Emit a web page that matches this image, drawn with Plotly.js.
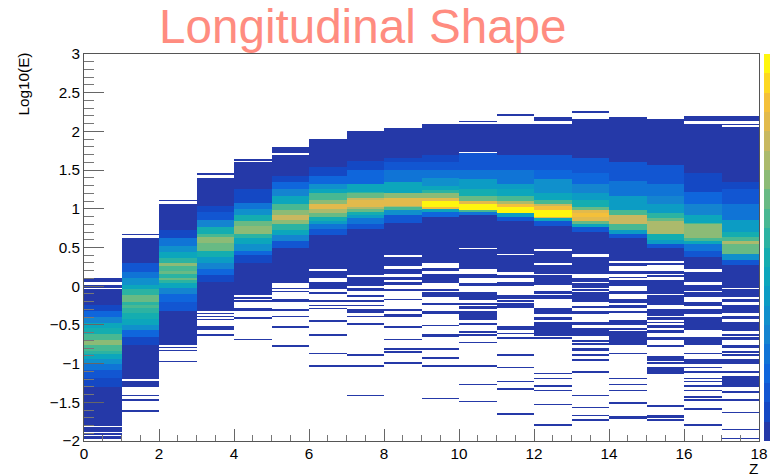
<!DOCTYPE html>
<html>
<head>
<meta charset="utf-8">
<script src="https://cdn.plot.ly/plotly-3.0.1.min.js"></script>
<style>html,body{margin:0;padding:0;background:#fff;overflow:hidden}</style>
</head>
<body>
<div id="chart" style="width:770px;height:475px"></div>
<script>
// Palette of the 20 contour levels, bottom to top of the colour bar
var levelColors = ["#2539A8","#1448C4","#1256D2","#0F66DC","#1074D6","#1484D0","#1090CC","#0C9CC4","#0CA6BC","#14ADB0",
                   "#2BB3A2","#48B892","#68BA84","#8CBB76","#ACBA6C","#C8B860","#E2BA4C","#F4C03A","#FDD822","#FFF60E"];
var zBinEdges = [0,1,2,3,4,5,6,7,8,9,10,11,12,13,14,15,16,17,18];

// Each band: [low Log10(E), high Log10(E), colour level 1-20]; each line: a one-bin Log10(E) entry at level 1
var bands0 = [[-1.79,-1.30,1],[-1.30,-1.19,2],[-1.19,-1.08,3],[-1.08,-1.0,5],[-1.0,-.93,7],[-.93,-.88,9],[-.88,-.83,11],[-.83,-.76,12],[-.76,-.70,14],[-.70,-.62,12],[-.62,-.55,10],[-.55,-.48,9],[-.48,-.40,6],[-.40,-.33,4],[-.33,-.25,2],[-.25,-.05,1],[-.02,.03,1],[.06,.11,1],[-1.88,-1.824,1],[-1.93,-1.91,1],[-1.978,-1.95,1]];
var lines0 = [];
var bands1 = [[-1.30,-1.22,1],[-1.20,-.76,1],[-.76,-.66,2],[-.66,-.57,4],[-.57,-.50,7],[-.50,-.42,9],[-.42,-.34,10],[-.34,-.29,11],[-.29,-.24,12],[-.24,-.20,11],[-.20,-.13,13],[-.13,-.05,11],[-.05,.03,9],[.03,.10,7],[.10,.18,5],[.18,.29,3],[.29,.59,1]];
var lines1 = [.67,.61,-1.41,-1.47,-1.61];
var bands2 = [[-.76,-.32,1],[-.32,-.2,3],[-.2,-.1,4],[-.1,-.02,6],[-.02,.05,9],[.05,.08,11],[.08,.11,13],[.11,.15,11],[.15,.19,13],[.19,.25,12],[.25,.29,14],[.29,.36,11],[.36,.44,9],[.44,.52,7],[.52,.62,5],[.62,.71,2],[.71,1.06,1]];
var lines2 = [1.11,-.79,-.835,-.976];
var bands3 = [[-.33,.055,1],[.055,.14,2],[.14,.22,4],[.22,.29,6],[.29,.38,8],[.38,.46,10],[.46,.56,13],[.56,.64,14],[.64,.68,12],[.68,.75,10],[.75,.85,6],[.85,.95,3],[.95,1.045,2],[1.045,1.40,1]];
var lines3 = [1.45,-.36,-.39,-.43,-.525,-.55,-.63];
var bands4 = [[-.115,.29,1],[.29,.40,2],[.40,.47,4],[.47,.55,7],[.55,.62,9],[.62,.68,11],[.68,.78,14],[.78,.84,13],[.84,.92,10],[.92,1.0,7],[1.0,1.07,5],[1.07,1.26,2],[1.26,1.6,1]];
var lines4 = [1.635,-.16,-.19,-.30,-.32,-.41,-.69];
var bands5 = [[.048,.508,1],[.51,.58,3],[.58,.66,6],[.66,.72,9],[.72,.80,11],[.80,.86,14],[.86,.92,16],[.92,.98,14],[.98,1.06,12],[1.06,1.15,9],[1.15,1.25,6],[1.25,1.34,4],[1.34,1.42,2],[1.42,1.70,1],[1.72,1.80,1],[-.2,-.16,1]];
var lines5 = [-.04,-.08,-.31,-.39,-.53,-.77];
var bands6 = [[.21,.66,1],[.66,.73,3],[.73,.79,5],[.79,.84,8],[.84,.90,10],[.90,.94,13],[.94,1.0,15],[1.0,1.05,17],[1.05,1.12,14],[1.12,1.2,12],[1.2,1.25,9],[1.25,1.32,7],[1.32,1.41,4],[1.41,1.54,2],[1.54,1.905,1],[.10,.19,1],[-.04,.06,1]];
var lines6 = [-.094,-.20,-.25,-.29,-.447,-.627,-.868,-1.03];
var bands7 = [[.143,.74,1],[.74,.80,3],[.80,.87,5],[.87,.92,8],[.92,.96,10],[.96,1.0,13],[1.0,1.02,15],[1.02,1.12,17],[1.12,1.14,16],[1.14,1.196,13],[1.196,1.22,11],[1.22,1.325,9],[1.325,1.5,4],[1.5,1.62,2],[1.62,2.0,1],[0,.112,1],[-.07,-.03,1],[-.345,-.30,1]];
var lines7 = [-.137,-.19,-.25,-.395,-.49,-.89,-1.03,-1.406];
var bands8 = [[.405,.82,1],[.82,.92,3],[.92,.98,7],[.98,1.03,12],[1.03,1.045,15],[1.045,1.14,17],[1.14,1.19,14],[1.19,1.345,9],[1.345,1.5,5],[1.5,1.6,3],[1.6,1.66,2],[1.66,2.04,1],[.37,.38,1],[.25,.336,1],[.164,.216,1],[.087,.13,1],[.013,.057,1],[-.405,-.36,1]];
var lines8 = [.353,-.042,-.17,-.31,-.53,-.69,-.81,-.85,-.99];
var bands9 = [[.293,.895,1],[.895,.96,4],[.96,.99,9],[.99,1.015,18],[1.015,1.09,20],[1.09,1.13,17],[1.13,1.2,14],[1.2,1.24,11],[1.24,1.3,9],[1.3,1.4,7],[1.4,1.5,5],[1.5,1.6,3],[1.6,1.70,2],[1.70,2.1,1],[.035,.151,1],[-.15,-.085,1],[-.361,-.318,1],[-.662,-.619,1]];
var lines9 = [.228,.207,-.042,-.232,-.51,-.81,-.93,-1.03,-1.45];
var bands10 = [[.508,.917,1],[.917,.95,5],[.95,.98,12],[.98,1.06,20],[1.06,1.09,17],[1.09,1.15,13],[1.15,1.25,10],[1.25,1.37,8],[1.37,1.5,5],[1.5,1.71,3],[1.73,2.1,1],[.216,.478,1],[.1,.155,1],[0,.035,1],[-.18,-.08,1],[-.39,-.35,1],[-.45,-.40,1]];
var lines10 = [2.13,-.23,-.266,-.296,-.33,-.494,-.6,-.636,-.73,-1.03,-1.27,-1.495];
var bands11 = [[.603,.84,1],[.84,.90,3],[.90,.938,8],[.938,1.024,20],[1.024,1.067,18],[1.067,1.1,15],[1.1,1.153,12],[1.153,1.25,9],[1.25,1.325,8],[1.325,1.497,5],[1.497,1.70,3],[1.70,2.11,1],[.422,.581,1],[.315,.4,1],[.185,.293,1],[-.008,.035,1],[-.16,-.128,1],[-.288,-.214,1],[-.675,-.655,1]];
var lines11 = [2.215,.594,.306,.134,.1,.057,-.189,-.533,-.558,-.62,-.89,-1.05,-1.225,-1.33,-1.646];
var bands12 = [[.487,.787,1],[.787,.83,3],[.83,.87,9],[.87,.904,17],[.904,.98,20],[.98,1.03,18],[1.03,1.067,16],[1.067,1.11,12],[1.11,1.2,9],[1.2,1.37,7],[1.37,1.5,4],[1.5,1.70,3],[1.70,2.11,1],[2.14,2.185,1],[.3,.456,1],[.155,.28,1],[.026,.134,1],[-.103,-.051,1],[-.16,-.128,1],[-.352,-.275,1],[-.438,-.408,1],[-.645,-.468,1]];
var lines12 = [-.675,-1.126,-1.19,-1.29,-1.354,-1.526,-1.79];
var bands13 = [[.422,.70,1],[.70,.76,3],[.76,.79,9],[.79,.83,13],[.83,.90,17],[.90,.93,18],[.93,.98,17],[.98,1.02,13],[1.02,1.11,10],[1.11,1.2,8],[1.2,1.325,6],[1.325,1.454,4],[1.454,1.66,3],[1.66,2.16,1],[.323,.37,1],[.155,.293,1],[.057,.095,1],[-.03,.035,1],[-.193,-.073,1],[-.29,-.253,1],[-.353,-.33,1],[-.645,-.533,1],[-.84,-.8,1]];
var lines13 = [2.25,.306,-.05,-.48,-.5,-.71,-.76,-.89,-.945,-1.105,-1.406,-1.57,-1.67,-1.73];
var bands14 = [[.323,.615,1],[.615,.67,3],[.67,.72,8],[.72,.80,12],[.80,.916,16],[.916,.98,12],[.98,1.153,8],[1.153,1.35,5],[1.35,1.605,3],[1.605,2.185,1],[.259,.3,1],[.151,.207,1],[.009,.078,1],[-.103,-.051,1],[-.223,-.167,1],[-.279,-.232,1],[-.494,-.447,1],[-.554,-.533,1],[-.76,-.61,1],[-1.72,-1.685,1]];
var lines14 = [.1,-.322,-.59,-.877,-1.19,-1.27,-1.35,-1.52];
var bands15 = [[.315,.508,1],[.508,.55,3],[.55,.60,8],[.60,.68,10],[.68,.83,15],[.83,.87,13],[.87,.938,11],[.938,1.05,8],[1.05,1.153,6],[1.153,1.325,5],[1.325,1.56,3],[1.56,2.07,1],[2.105,2.15,1],[.27,.293,1],[.155,.207,1],[.121,.138,1],[-.094,.09,1],[-.245,-.115,1],[-.352,-.292,1],[-.545,-.5,1],[-.696,-.653,1],[-.954,-.902,1],[-1.139,-1.049,1],[-1.707,-1.668,1]];
var lines15 = [2.09,-.378,-.404,-.43,-.464,-.576,-.6,-.773,-.99,-1.55,-1.73];
var bands16 = [[.215,.38,1],[.38,.46,3],[.46,.53,5],[.53,.58,9],[.58,.62,12],[.62,.79,14],[.79,.81,12],[.81,.916,9],[.916,1.067,6],[1.067,1.217,4],[1.217,1.45,2],[1.45,2.11,1],[2.14,2.2,1],[.07,.173,1],[-.15,-.073,1],[-.257,-.193,1],[-.352,-.309,1],[-.567,-.43,1],[-.696,-.653,1],[-.76,-.726,1],[-1.0,-.933,1]];
var lines16 = [.013,-.008,-.03,-.051,-.404,-.709,-.868,-1.05,-1.105,-1.19,-1.24,-1.3,-1.35,-1.427,-1.47,-1.59,-1.79];
var bands17 = [[-.017,.27,1],[.27,.336,3],[.336,.42,7],[.42,.55,13],[.55,.57,15],[.57,.637,12],[.637,.70,10],[.70,.85,8],[.85,1.067,5],[1.067,1.26,3],[1.26,1.33,2],[1.33,2.05,1],[2.07,2.11,1],[2.14,2.2,1],[-.137,-.042,1],[-.343,-.232,1],[-.416,-.374,1],[-.589,-.468,1],[-.709,-.687,1],[-.8,-.76,1],[-1.0,-.933,1],[-1.277,-1.16,1]];
var lines17 = [-.18,-.2,-.63,-.66,-.846,-.89,-1.105,-1.3,-1.36,-1.47,-1.63,-1.85,-1.97];

var columnBands = [bands0,bands1,bands2,bands3,bands4,bands5,bands6,bands7,bands8,bands9,bands10,bands11,bands12,bands13,bands14,bands15,bands16,bands17];
var columnLines = [lines0,lines1,lines2,lines3,lines4,lines5,lines6,lines7,lines8,lines9,lines10,lines11,lines12,lines13,lines14,lines15,lines16,lines17];

// Histogram grid: 250 bins of Log10(E) from -2 to 3
var yMin = -2, yBin = 0.02, nY = 250, yEdges = [], z = [];
for (var r = 0; r <= nY; r++) yEdges.push(+(yMin + r * yBin).toFixed(3));
for (var r2 = 0; r2 < nY; r2++) { var row = []; for (var c = 0; c < zBinEdges.length; c++) row.push(null); z.push(row); }
function fill(col, lo, hi, lvl) {
  var a = Math.floor((lo - yMin) / yBin + 0.5), b = Math.floor((hi - yMin) / yBin + 0.5) - 1;
  if (b < a) { a = Math.floor((lo - yMin) / yBin); b = a; }
  for (var i = Math.max(a, 0); i <= Math.min(b, nY - 1); i++) z[i][col] = lvl - 0.5;
}
columnBands.forEach(function (list, col) { list.forEach(function (b) { fill(col, b[0], b[1], b[2]); }); });
columnLines.forEach(function (list, col) { list.forEach(function (v) { fill(col, v, v, 1); }); });
z.forEach(function (row) { row.pop(); });

var scale = [];
levelColors.forEach(function (c, i) { scale.push([i / 20, c]); scale.push([(i + 1) / 20, c]); });

var tickFont = {family: "Liberation Sans, Arial, sans-serif", size: 15.3, color: "#000"};
var trace = {
  type: "heatmap", x: zBinEdges, y: yEdges, z: z, zmin: 0, zmax: 20, zsmooth: false,
  colorscale: scale, hoverongaps: false,
  colorbar: {x: 1.0074, xanchor: "left", y: 0, yanchor: "bottom", len: 1, lenmode: "fraction",
             thickness: 20, thicknessmode: "pixels", xpad: 0, ypad: 0, outlinewidth: 0,
             showticklabels: false, ticks: ""}
};
var layout = {
  width: 770, height: 475, paper_bgcolor: "#fff", plot_bgcolor: "#fff", showlegend: false,
  margin: {l: 84, r: 11, t: 54, b: 34, pad: 0, autoexpand: false},
  xaxis: {range: [0, 18], dtick: 2, tick0: 0, ticks: "inside", ticklen: 11.6, tickwidth: 1, tickcolor: "#666",
          showline: true, mirror: true, linecolor: "#555", linewidth: 1, showgrid: false, zeroline: false,
          tickfont: tickFont, ticklabelstandoff: -1,
          minor: {dtick: 0.5, tick0: 0, ticks: "inside", ticklen: 6, tickwidth: 1, tickcolor: "#777", showgrid: false}},
  yaxis: {range: [-2, 3], dtick: 0.5, tick0: 0, ticks: "inside", ticklen: 20, tickwidth: 1, tickcolor: "#666",
          showline: true, mirror: true, linecolor: "#555", linewidth: 1, showgrid: false, zeroline: false,
          tickfont: tickFont,
          minor: {dtick: 0.1, tick0: 0, ticks: "inside", ticklen: 10, tickwidth: 1, tickcolor: "#777", showgrid: false}},
  annotations: [
    {text: "Longitudinal Shape", xref: "paper", yref: "paper", x: 0.4133, y: 1, yshift: 56.5, xanchor: "center", yanchor: "top", showarrow: false,
     font: {family: "Liberation Sans, Arial, sans-serif", size: 47.6, color: "#FF8C80"}},
    {text: "Log10(E)", xref: "paper", yref: "paper", x: 0, xshift: -61, y: 1, yshift: 3, textangle: -90, xanchor: "center", yanchor: "top", showarrow: false,
     font: {family: "Liberation Sans, Arial, sans-serif", size: 15.3, color: "#000"}},
    {text: "Z", xref: "paper", yref: "paper", x: 1, y: 0, yshift: -37, borderpad: 0, xanchor: "right", yanchor: "bottom", showarrow: false,
     font: {family: "Liberation Sans, Arial, sans-serif", size: 15.3, color: "#000"}}
  ]
};
Plotly.newPlot("chart", [trace], layout, {displayModeBar: false, staticPlot: true});
</script>
</body>
</html>
